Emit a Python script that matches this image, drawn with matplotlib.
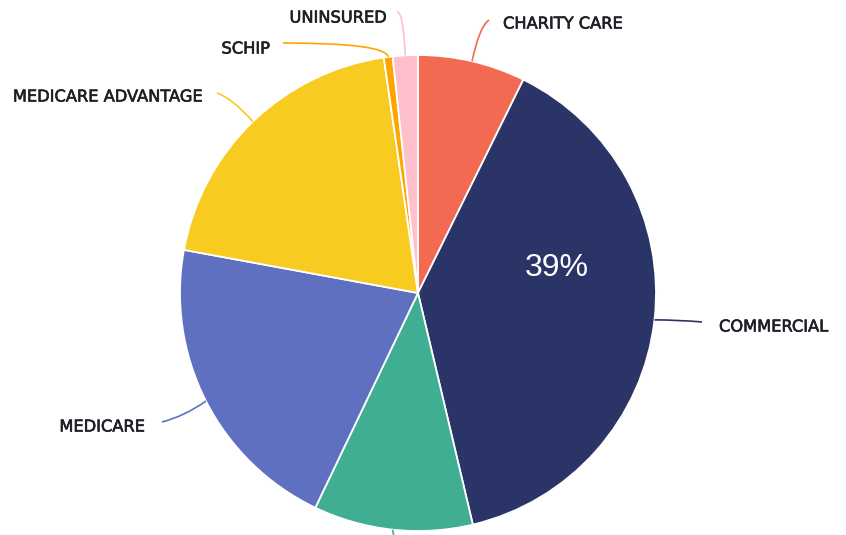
import matplotlib
matplotlib.use("Agg")
import matplotlib.pyplot as plt
import matplotlib.patheffects as pe
from matplotlib.path import Path
from matplotlib.patches import PathPatch
import numpy as np

# Payer mix shares (percent)
categories = ["CHARITY CARE", "COMMERCIAL", "MEDICAID", "MEDICARE",
              "MEDICARE ADVANTAGE", "SCHIP", "UNINSURED"]
shares = [7.3, 39.0, 10.8, 20.8, 19.8, 0.6, 1.7]
colors = ["#F26A52", "#2B3467", "#40AE92", "#5F70C1",
          "#F8CB21", "#FFA400", "#FFC0CB"]
shown_pct = {"COMMERCIAL": "39%"}

W, H = 846, 535
fig = plt.figure(figsize=(W / 100, H / 100), dpi=100)
ax = fig.add_axes([0, 0, 1, 1])


def P(x, y):
    """Convert top-left pixel coordinates to axis coordinates."""
    return (x, H - y)


cx, cy, R = 418, 293, 238
wedges, _ = ax.pie(shares, colors=colors, startangle=90, counterclock=False,
                   center=P(cx, cy), radius=R,
                   wedgeprops=dict(edgecolor="white", linewidth=1.3))
ax.set_xlim(0, W)
ax.set_ylim(0, H)
ax.set_aspect("equal")
ax.axis("off")

# percentage text inside the commercial slice, nudged toward the upper part
for w, cat in zip(wedges, categories):
    if cat in shown_pct:
        ang = np.deg2rad((w.theta1 + w.theta2) / 2 + 16)
        r = 0.59 * R
        ax.text(P(cx, cy)[0] + r * np.cos(ang), P(cx, cy)[1] + r * np.sin(ang) + 2,
                shown_pct[cat], color="white", fontsize=23,
                family="Liberation Sans", ha="center", va="center")

# leader line routes: control/elbow and end points (pixels), label anchor, alignment
routes = {
    "CHARITY CARE": ([(479, 27), (489, 20)], (503, 24), "left"),
    "COMMERCIAL": ([(680, 320), (702, 322)], (719, 327), "left"),
    "MEDICAID": ([(396, 545), (396, 560)], (396, 577), "center"),
    "MEDICARE": ([(185, 416), (162, 422)], (145, 427), "right"),
    "MEDICARE ADVANTAGE": ([(232, 98), (217, 93)], (203, 97), "right"),
    "SCHIP": ([(386, 43), (283, 43)], (270, 49), "right"),
    "UNINSURED": ([(403, 11), (397, 12)], (387, 18), "right"),
}

for w, cat, col in zip(wedges, categories, colors):
    mid = np.deg2rad((w.theta1 + w.theta2) / 2)
    ax0 = P(cx, cy)[0] + R * np.cos(mid)
    ay0 = P(cx, cy)[1] + R * np.sin(mid)
    (c, e), lab, ha = routes[cat]
    verts = [(ax0, ay0), P(*c), P(*e)]
    path = Path(verts, [Path.MOVETO, Path.CURVE3, Path.CURVE3])
    ax.add_patch(PathPatch(path, facecolor="none", edgecolor=col, lw=1.2,
                           clip_on=False))
    t = ax.text(*P(*lab), cat, fontsize=11.7, color="#1f1f28",
                ha=ha, va="center", family="DejaVu Sans")
    # a hairline stroke gives the labels a medium weight
    t.set_path_effects([pe.withStroke(linewidth=0.45, foreground="#1f1f28")])

fig.savefig("out.png", dpi=100, facecolor="white")
